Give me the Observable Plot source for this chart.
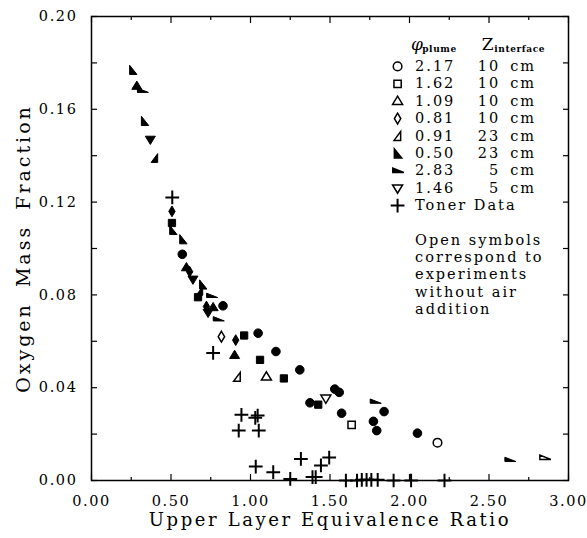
<!DOCTYPE html>
<html>
<head>
<meta charset="utf-8">
<script src="https://cdn.jsdelivr.net/npm/d3@7"></script>
<script src="https://cdn.jsdelivr.net/npm/@observablehq/plot@0.6"></script>
<style>
  body { margin: 0; background: #fff; }
  #chart svg text { font-family: "DejaVu Serif", serif; fill: #000; }
  #chart [aria-label="x-axis tick label"] text,
  #chart [aria-label="y-axis tick label"] text { font-size: 14.5px; letter-spacing: 1.6px; }
  #chart [aria-label="x-axis label"] text { font-size: 18px; letter-spacing: 2.6px; }
  #chart [aria-label="y-axis label"] text { font-size: 19px; letter-spacing: 3px; word-spacing: 6px; }
  #chart .legend text { font-size: 14.5px; letter-spacing: 2px; }
  #chart .head text { font-size: 17px; }
  #chart .sub text { font-size: 9px; font-weight: bold; letter-spacing: 0.6px; }
</style>
</head>
<body>
<div id="chart"></div>
<script>
// Upper-layer oxygen mass fraction vs. upper-layer equivalence ratio.
// Each series: [equivalence ratio, O2 mass fraction]. Filled = with air addition, open = without.
const phi217Air   = [[0.571,0.0975],[0.827,0.0753],[1.048,0.0635],[1.16,0.0556],[1.31,0.0477],[1.374,0.0335],[1.53,0.0394],[1.558,0.038],[1.573,0.029],[1.773,0.0255],[1.794,0.0215],[1.84,0.0297],[2.05,0.0204]];
const phi217NoAir = [[2.176,0.0163]];
const phi162Air   = [[0.506,0.111],[0.67,0.079],[0.96,0.0625],[1.06,0.052],[1.21,0.044],[1.426,0.0327]];
const phi162NoAir = [[1.636,0.024]];
const phi109Air   = [[0.285,0.170],[0.597,0.0918],[0.765,0.0746],[0.90,0.054]];
const phi109NoAir = [[1.10,0.0447]];
const phi081Air   = [[0.506,0.116],[0.617,0.090],[0.723,0.075],[0.907,0.0605]];
const phi081NoAir = [[0.817,0.062]];
const phi091Air   = [[0.397,0.139],[0.68,0.0817]];
const phi091NoAir = [[0.916,0.0447]];
const phi050Air   = [[0.26,0.177],[0.334,0.155],[0.512,0.108],[0.575,0.104],[0.70,0.0845]];
const phi283Air   = [[0.319,0.168],[0.754,0.0796],[0.796,0.0695],[1.783,0.034],[2.63,0.0089]];
const phi283NoAir = [[2.85,0.0098]];
const phi146Air   = [[0.37,0.147],[0.638,0.0867],[0.733,0.0724]];
const phi146NoAir = [[1.474,0.0354]];
const tonerData   = [[0.508,0.122],[0.765,0.055],[0.926,0.0215],[0.943,0.0283],[1.03,0.027],[1.045,0.028],[1.052,0.0215],[1.033,0.006],[1.143,0.0036],[1.25,0.0007],[1.317,0.0093],[1.39,0.0015],[1.41,0.0015],[1.443,0.0065],[1.495,0.0099],[1.60,0],[1.67,0],[1.70,0.0003],[1.73,0.0003],[1.76,0.0003],[1.80,0.0003],[1.90,0],[2.01,0],[2.22,0]];

const xTicks = [0, 0.5, 1, 1.5, 2, 2.5, 3];
const xMinorTicks = [0.25, 0.75, 1.25, 1.75, 2.25, 2.75];
const yTicks = [0, 0.04, 0.08, 0.12, 0.16, 0.20];
const yMinorTicks = [0.02, 0.06, 0.10, 0.14, 0.18];

const legendPhi = ["2.17", "1.62", "1.09", "0.81", "0.91", "0.50", "2.83", "1.46"];
const legendZ = ["10", "10", "10", "10", "23", "23", "5", "5"];
const noteLines = ["Open symbols", "correspond to", "experiments", "without air", "addition"];

// Custom marker shapes (d3 symbol-type objects; size is area)
const rad = s => Math.sqrt(s / Math.PI);
const triUp = { draw(c, s) { const r = rad(s) * 1.25; c.moveTo(0, -r); c.lineTo(r, r * 0.65); c.lineTo(-r, r * 0.65); c.closePath(); } };
const triDown = { draw(c, s) { const r = rad(s) * 1.25; c.moveTo(-r, -r * 0.65); c.lineTo(r, -r * 0.65); c.lineTo(0, r); c.closePath(); } };
const diamond = { draw(c, s) { const r = rad(s); c.moveTo(0, -r * 1.35); c.lineTo(r * 0.8, 0); c.lineTo(0, r * 1.35); c.lineTo(-r * 0.8, 0); c.closePath(); } };
const halfTri = { draw(c, s) { const r = rad(s) * 1.1; c.moveTo(r * 0.7, -r); c.lineTo(r * 0.7, r); c.lineTo(-r * 0.8, r); c.closePath(); } };
const wedgeLeft = { draw(c, s) { const r = rad(s) * 1.15; c.moveTo(-r * 0.7, -r); c.lineTo(-r * 0.7, r); c.lineTo(r * 0.9, r); c.closePath(); } };
const wedgeFlat = { draw(c, s) { const r = rad(s) * 1.2; c.moveTo(-r, -r * 0.55); c.lineTo(-r, r * 0.35); c.lineTo(r * 1.3, r * 0.35); c.closePath(); } };

const series = [
  { air: phi217Air, noAir: phi217NoAir, symbol: "circle", r: 4.3 },
  { air: phi162Air, noAir: phi162NoAir, symbol: "square", r: 4.1 },
  { air: phi109Air, noAir: phi109NoAir, symbol: triUp, r: 4 },
  { air: phi081Air, noAir: phi081NoAir, symbol: diamond, r: 4 },
  { air: phi091Air, noAir: phi091NoAir, symbol: halfTri, r: 4 },
  { air: phi050Air, noAir: [], symbol: wedgeLeft, r: 4 },
  { air: phi283Air, noAir: phi283NoAir, symbol: wedgeFlat, r: 4 },
  { air: phi146Air, noAir: phi146NoAir, symbol: triDown, r: 4 }
];
const legendFilled = [false, false, false, false, false, true, true, false];

const xy = { x: d => d[0], y: d => d[1] };
const dataMarks = series.flatMap(s => [
  Plot.dot(s.air, { ...xy, symbol: s.symbol, r: s.r, fill: "black", stroke: "black", strokeWidth: 1 }),
  Plot.dot(s.noAir, { ...xy, symbol: s.symbol, r: s.r, fill: "white", stroke: "black", strokeWidth: 1.5 })
]);

// Legend rows placed in data units in the upper-right corner
const rowY = legendPhi.map((_, i) => 0.1785 - i * 0.0075);
const legendRows = legendPhi.map((p, i) => ({ phi: p, z: legendZ[i], y: rowY[i], filled: legendFilled[i], symbol: series[i].symbol, r: series[i].r }));
const tonerY = 0.1785 - 8 * 0.0075;
const noteRows = noteLines.map((t, i) => ({ t, y: 0.1035 - i * 0.0074 }));
const symX = 1.925;

const legendMarks = [
  ...legendRows.map(d => Plot.dot([d], { x: () => symX, y: "y", symbol: d.symbol, r: d.r, fill: d.filled ? "black" : "white", stroke: "black", strokeWidth: 1.5 })),
  Plot.dot([tonerY], { x: () => symX, y: d => d, symbol: "plus", r: 4.5, stroke: "black", strokeWidth: 2 }),
  Plot.text(legendRows, { x: () => 2.035, y: "y", text: "phi", textAnchor: "start", className: "legend" }),
  Plot.text(legendRows, { x: () => 2.571, y: "y", text: "z", textAnchor: "end", className: "legend" }),
  Plot.text(legendRows, { x: () => 2.633, y: "y", text: () => "cm", textAnchor: "start", className: "legend" }),
  Plot.text([tonerY], { x: () => 2.035, y: d => d, text: () => "Toner Data", textAnchor: "start", className: "legend" }),
  Plot.text(noteRows, { x: () => 2.035, y: "y", text: "t", textAnchor: "start", className: "legend" }),
  Plot.text([0.1878], { x: () => 2.01, y: d => d, text: () => "φ", textAnchor: "start", fontStyle: "italic", className: "head" }),
  Plot.text([0.1858], { x: () => 2.08, y: d => d, text: () => "plume", textAnchor: "start", className: "sub" }),
  Plot.text([0.1878], { x: () => 2.455, y: d => d, text: () => "Z", textAnchor: "start", className: "head" }),
  Plot.text([0.1858], { x: () => 2.533, y: d => d, text: () => "interface", textAnchor: "start", className: "sub" })
];

const fmt = d => d.toFixed(2);
const chart = Plot.plot({
  width: 587,
  height: 538,
  marginLeft: 91,
  marginRight: 19,
  marginTop: 16,
  marginBottom: 58,
  x: { domain: [0, 3] },
  y: { domain: [0, 0.2] },
  marks: [
    Plot.frame({ stroke: "black", strokeWidth: 1.5 }),
    Plot.axisX({ ticks: xTicks, tickFormat: fmt, tickSize: 0, tickPadding: 15, label: "Upper Layer Equivalence Ratio", labelAnchor: "center", labelArrow: "none", labelOffset: 45 }),
    Plot.axisX({ ticks: xTicks, tickSize: -6, text: null, label: null, strokeWidth: 1.2 }),
    Plot.axisX({ ticks: xMinorTicks, tickSize: -3, text: null, label: null, strokeWidth: 1.2 }),
    Plot.axisX({ anchor: "top", ticks: xTicks, tickSize: -6, text: null, label: null, strokeWidth: 1.2 }),
    Plot.axisX({ anchor: "top", ticks: xMinorTicks, tickSize: -3, text: null, label: null, strokeWidth: 1.2 }),
    Plot.axisY({ ticks: yTicks, tickFormat: fmt, tickSize: 0, tickPadding: 14, label: "Oxygen Mass Fraction", labelAnchor: "center", labelArrow: "none", labelOffset: 75 }),
    Plot.axisY({ ticks: yTicks.concat(yMinorTicks), tickSize: -6, text: null, label: null, strokeWidth: 1.2 }),
    Plot.axisY({ anchor: "right", ticks: yTicks.concat(yMinorTicks), tickSize: -6, text: null, label: null, strokeWidth: 1.2 }),
    Plot.dot(tonerData, { ...xy, symbol: "plus", r: 4.5, stroke: "black", strokeWidth: 2 }),
    ...dataMarks,
    ...legendMarks
  ]
});
document.getElementById("chart").append(chart);
</script>
</body>
</html>
